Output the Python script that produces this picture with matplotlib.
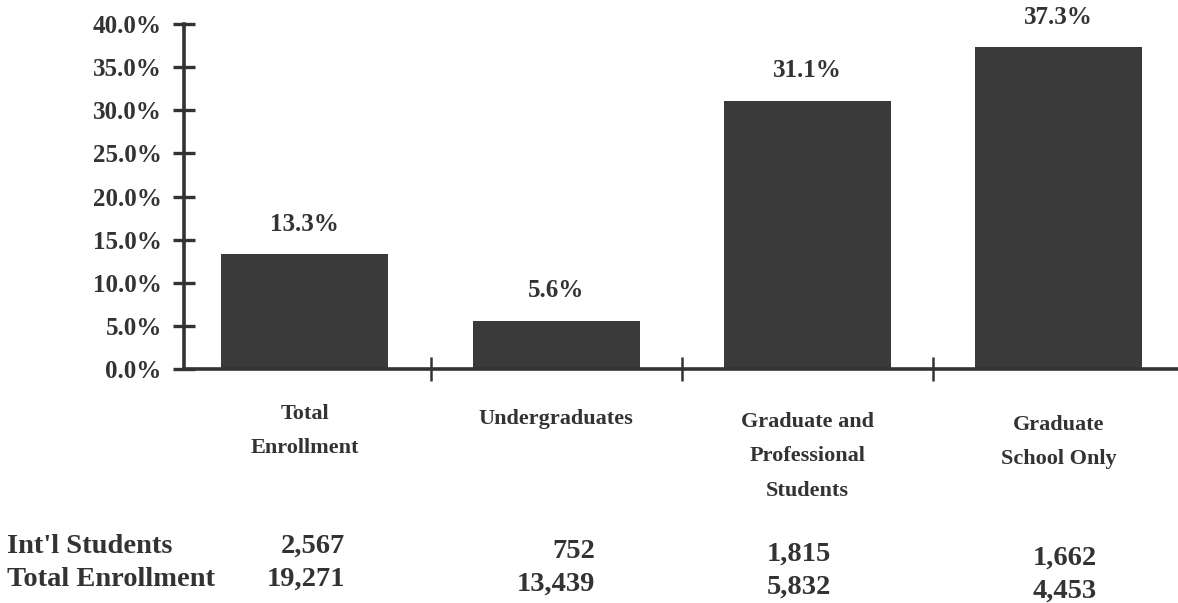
import matplotlib
matplotlib.use("Agg")
import matplotlib.pyplot as plt
from matplotlib.ticker import FuncFormatter, FixedLocator

# ---- data ----
categories = ["Total\nEnrollment", "Undergraduates", "Graduate and\nProfessional\nStudents",
              "Graduate\nSchool Only"]
pct_intl = [13.3, 5.6, 31.1, 37.3]
intl_students = ["2,567", "752", "1,815", "1,662"]
total_enrollment = ["19,271", "13,439", "5,832", "4,453"]
row_labels = ["Int'l Students", "Total Enrollment"]
y_ticks = [0, 5, 10, 15, 20, 25, 30, 35, 40]

plt.rcParams['font.family'] = ['Liberation Serif', 'DejaVu Serif']
plt.rcParams['font.weight'] = 'bold'
INK = "#333333"
TXT = "#333333"
BAR = "#3a3a3a"

W, H = 1178, 603
fig = plt.figure(figsize=(W / 100, H / 100), dpi=100)
fig.patch.set_facecolor("white")

ax = fig.add_axes([184 / W, 1 - 369 / H, 1 - 184 / W, (369 - 24) / H])
x = list(range(len(categories)))
ax.bar(x, pct_intl, width=0.665, color=BAR, zorder=2)
ax.set_xlim(-0.481, 3.474)
ax.set_ylim(0, 40)

for s in ["top", "right"]:
    ax.spines[s].set_visible(False)
for s in ["left", "bottom"]:
    ax.spines[s].set_color(INK)
    ax.spines[s].set_linewidth(2.6)
    ax.spines[s].set_zorder(3)

ax.yaxis.set_major_locator(FixedLocator(y_ticks))
ax.yaxis.set_major_formatter(FuncFormatter(lambda v, p: f"{v:.1f}%"))
ax.tick_params(axis="y", direction="inout", length=16, width=2.4, color=INK,
               labelsize=18, labelcolor=TXT, pad=8)
ax.xaxis.set_major_locator(FixedLocator([i + 0.5 for i in x[:-1]]))
ax.tick_params(axis="x", direction="inout", length=17, width=1.8, color=INK,
               labelbottom=False)

for xi, v in zip(x, pct_intl):
    ax.annotate(f"{v:.1f}%", (xi, v), xytext=(0, 30), textcoords="offset pixels",
                ha="center", va="center", fontsize=18, color=TXT)

# category labels below the axis (scan is slightly tilted: right side sits lower)
cat_drop = [0, 5, 8, 11]
for xi, c, d in zip(x, categories, cat_drop):
    ax.annotate(c, (xi, 0), xytext=(0, -35 - d), textcoords="offset pixels",
                ha="center", va="top", fontsize=16, color=TXT,
                linespacing=1.95, annotation_clip=False)

# table beneath
row_base = [553, 586]
fig.text(7 / W, 1 - row_base[0] / H, row_labels[0], ha="left", va="baseline",
         fontsize=20.5, color=TXT)
fig.text(7 / W, 1 - row_base[1] / H, row_labels[1], ha="left", va="baseline",
         fontsize=20.5, color=TXT)
col_right = [345, 595, 831, 1097]
col_drop = [0, 5, 8, 12]
for i in range(len(categories)):
    fig.text(col_right[i] / W, 1 - (row_base[0] + col_drop[i]) / H, intl_students[i],
             ha="right", va="baseline", fontsize=20.5, color=TXT)
    fig.text(col_right[i] / W, 1 - (row_base[1] + col_drop[i]) / H, total_enrollment[i],
             ha="right", va="baseline", fontsize=20.5, color=TXT)

fig.savefig("out.png", dpi=100, facecolor="white")
